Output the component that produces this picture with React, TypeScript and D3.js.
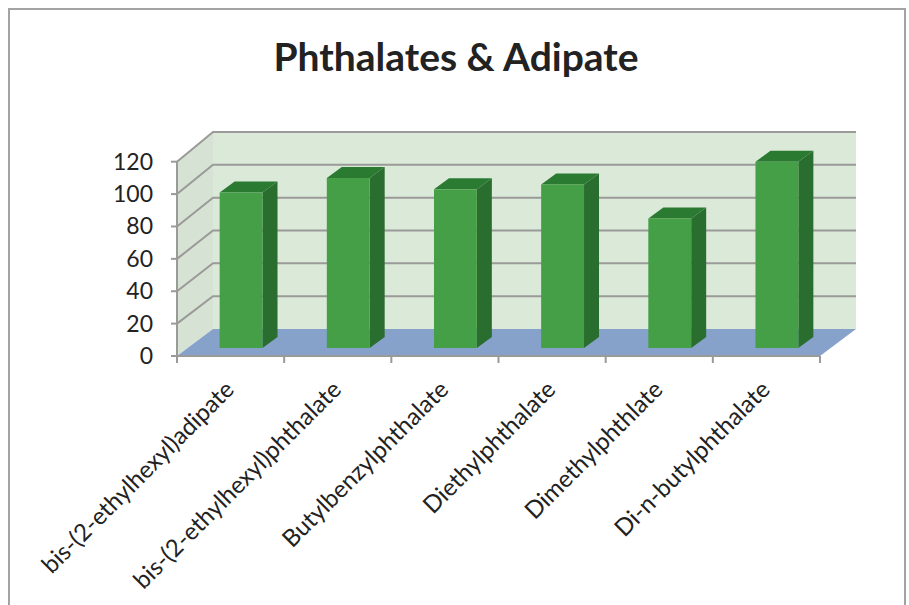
import React from "react";
import * as d3 from "d3";

const categories = [
  "bis-(2-ethylhexyl)adipate",
  "bis-(2-ethylhexyl)phthalate",
  "Butylbenzylphthalate",
  "Diethylphthalate",
  "Dimethylphthlate",
  "Di-n-butylphthalate",
];
const values = [96, 105, 98, 101, 80, 115];
const yTicks = [0, 20, 40, 60, 80, 100, 120];

const width = 909;
const height = 605;

// front plane of the 3d box
const x0 = 177;
const x1 = 820;
const yBase = 356;
const yTop = 161.7;
const wallDx = 36;
const backBase = 329;
const backTop = 132;
const barDx = 15;
const barDy = -11;

const x = d3.scaleBand<string>().domain(categories).range([x0, x1]).paddingInner(0.6).paddingOuter(0.3);
const band = d3.scaleBand<string>().domain(categories).range([x0, x1]);
const y = d3.scaleLinear().domain([0, 120]).range([yBase, yTop]);
const yBack = d3.scaleLinear().domain([0, 120]).range([backBase, backTop]);

const font = "Lato, 'Open Sans', sans-serif";
const gridColor = "#9a9a98";

const poly = (pts: [number, number][]) => d3.line()(pts) + "Z";

export default function App() {
  // bars stand in the middle of the floor depth
  const offX = (wallDx - barDx) / 2;
  const offY = -8;

  return (
    <svg width={width} height={height} style={{ position: "absolute", left: 0, top: 0, background: "#fff" }}>
      <path d={`M9,${height}V9H905V${height}`} fill="none" stroke="#a3a3a3" strokeWidth={2} />
      <text x={456} y={71} textAnchor="middle" fontFamily={font} fontWeight={700} fontSize={39} fill="#222">
        Phthalates &amp; Adipate
      </text>

      {/* walls and floor */}
      <path d={poly([[x0, yBase], [x0 + wallDx, backBase], [x0 + wallDx, backTop], [x0, yTop]])} fill="#d6e2d4" />
      <rect x={x0 + wallDx} y={backTop} width={x1 - x0} height={backBase - backTop} fill="#dbe9d9" />
      <path d={poly([[x0, yBase], [x1, yBase], [x1 + wallDx, backBase], [x0 + wallDx, backBase]])} fill="#86a1ca" />

      {/* gridlines */}
      {yTicks.map((t) => (
        <g key={t} stroke={gridColor} strokeWidth={2} fill="none">
          {t > 0 && <path d={`M${x0},${y(t)}L${x0 + wallDx},${yBack(t)}H${x1 + wallDx}`} />}
          <line x1={x0 - 6} x2={x0} y1={y(t)} y2={y(t)} />
        </g>
      ))}

      {/* axes */}
      <g stroke={gridColor} strokeWidth={2} fill="none">
        <line x1={x0} x2={x0} y1={yTop} y2={yBase} />
        <line x1={x0} x2={x1} y1={yBase} y2={yBase} />
        {d3.range(categories.length + 1).map((i) => {
          const tx = x0 + (i * (x1 - x0)) / categories.length;
          return <line key={i} x1={tx} x2={tx} y1={yBase} y2={yBase + 7} />;
        })}
      </g>

      {/* bars */}
      {categories.map((c, i) => {
        const bl = (x(c) as number) + offX;
        const bw = x.bandwidth();
        const bottom = yBase + offY;
        const top = bottom - (yBase - y(values[i]));
        return (
          <g key={c}>
            <path d={poly([[bl + bw, top], [bl + bw + barDx, top + barDy], [bl + bw + barDx, bottom + barDy], [bl + bw, bottom]])} fill="#2a6e2f" />
            <path d={poly([[bl, top], [bl + barDx, top + barDy], [bl + bw + barDx, top + barDy], [bl + bw, top]])} fill="#2a7a32" />
            <rect x={bl} y={top} width={bw} height={bottom - top} fill="#459f46" />
          </g>
        );
      })}

      {/* tick labels */}
      {yTicks.map((t) => (
        <text key={t} x={x0 - 24} y={y(t) + 8} textAnchor="end" fontFamily={font} fontSize={23} fill="#222">
          {t}
        </text>
      ))}
      {categories.map((c) => {
        const cx = (band(c) as number) + band.bandwidth() / 2 + 5;
        return (
          <text key={c} transform={`translate(${cx},${391}) rotate(-45)`} textAnchor="end" fontFamily={font} fontSize={24} fill="#222">
            {c}
          </text>
        );
      })}
    </svg>
  );
}
